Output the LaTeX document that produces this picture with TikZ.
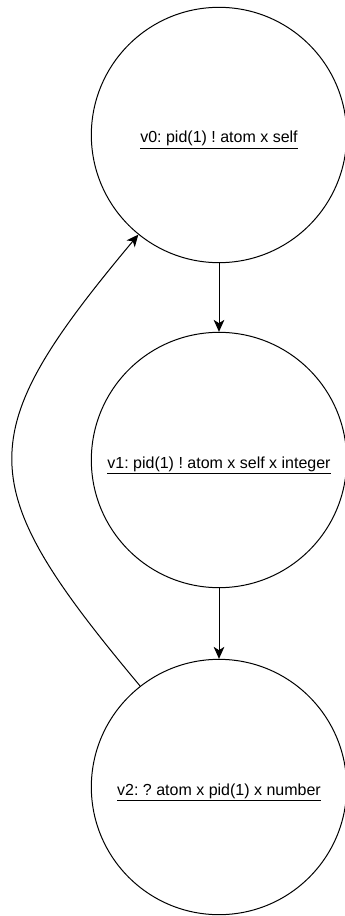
\documentclass[tikz,border=0pt]{standalone}
\usepackage{fontspec}
\setmainfont{Liberation Sans}
\usetikzlibrary{arrows.meta}
\frenchspacing
\begin{document}
\begin{tikzpicture}[x=0.75pt, y=-0.75pt, line width=0.75pt,
  state/.style={draw=black, circle, minimum size=191.5pt, inner sep=0pt,
    text height=16pt, text depth=4pt, font=\fontsize{12}{14}\selectfont},
  edge/.style={-{Stealth[length=9pt, width=8pt, inset=2.5pt]}}]
\useasboundingbox (0,0) rectangle (345,916);

\node [state] (v0) at (219,135) {\underline{v0: pid(1) ! atom x self}};
\node [state] (v1) at (219,460) {\underline{v1: pid(1) ! atom x self x integer}};
\node [state] (v2) at (219,787) {\underline{v2: ? atom x pid(1) x number}};

\draw [edge] (v0) -- (v1);
\draw [edge] (v1) -- (v2);

% back edge round the left
\draw [edge] (v2.128.5) .. controls +(-169,-202) and +(-169,202) .. (v0.231.5);
\end{tikzpicture}
\end{document}
